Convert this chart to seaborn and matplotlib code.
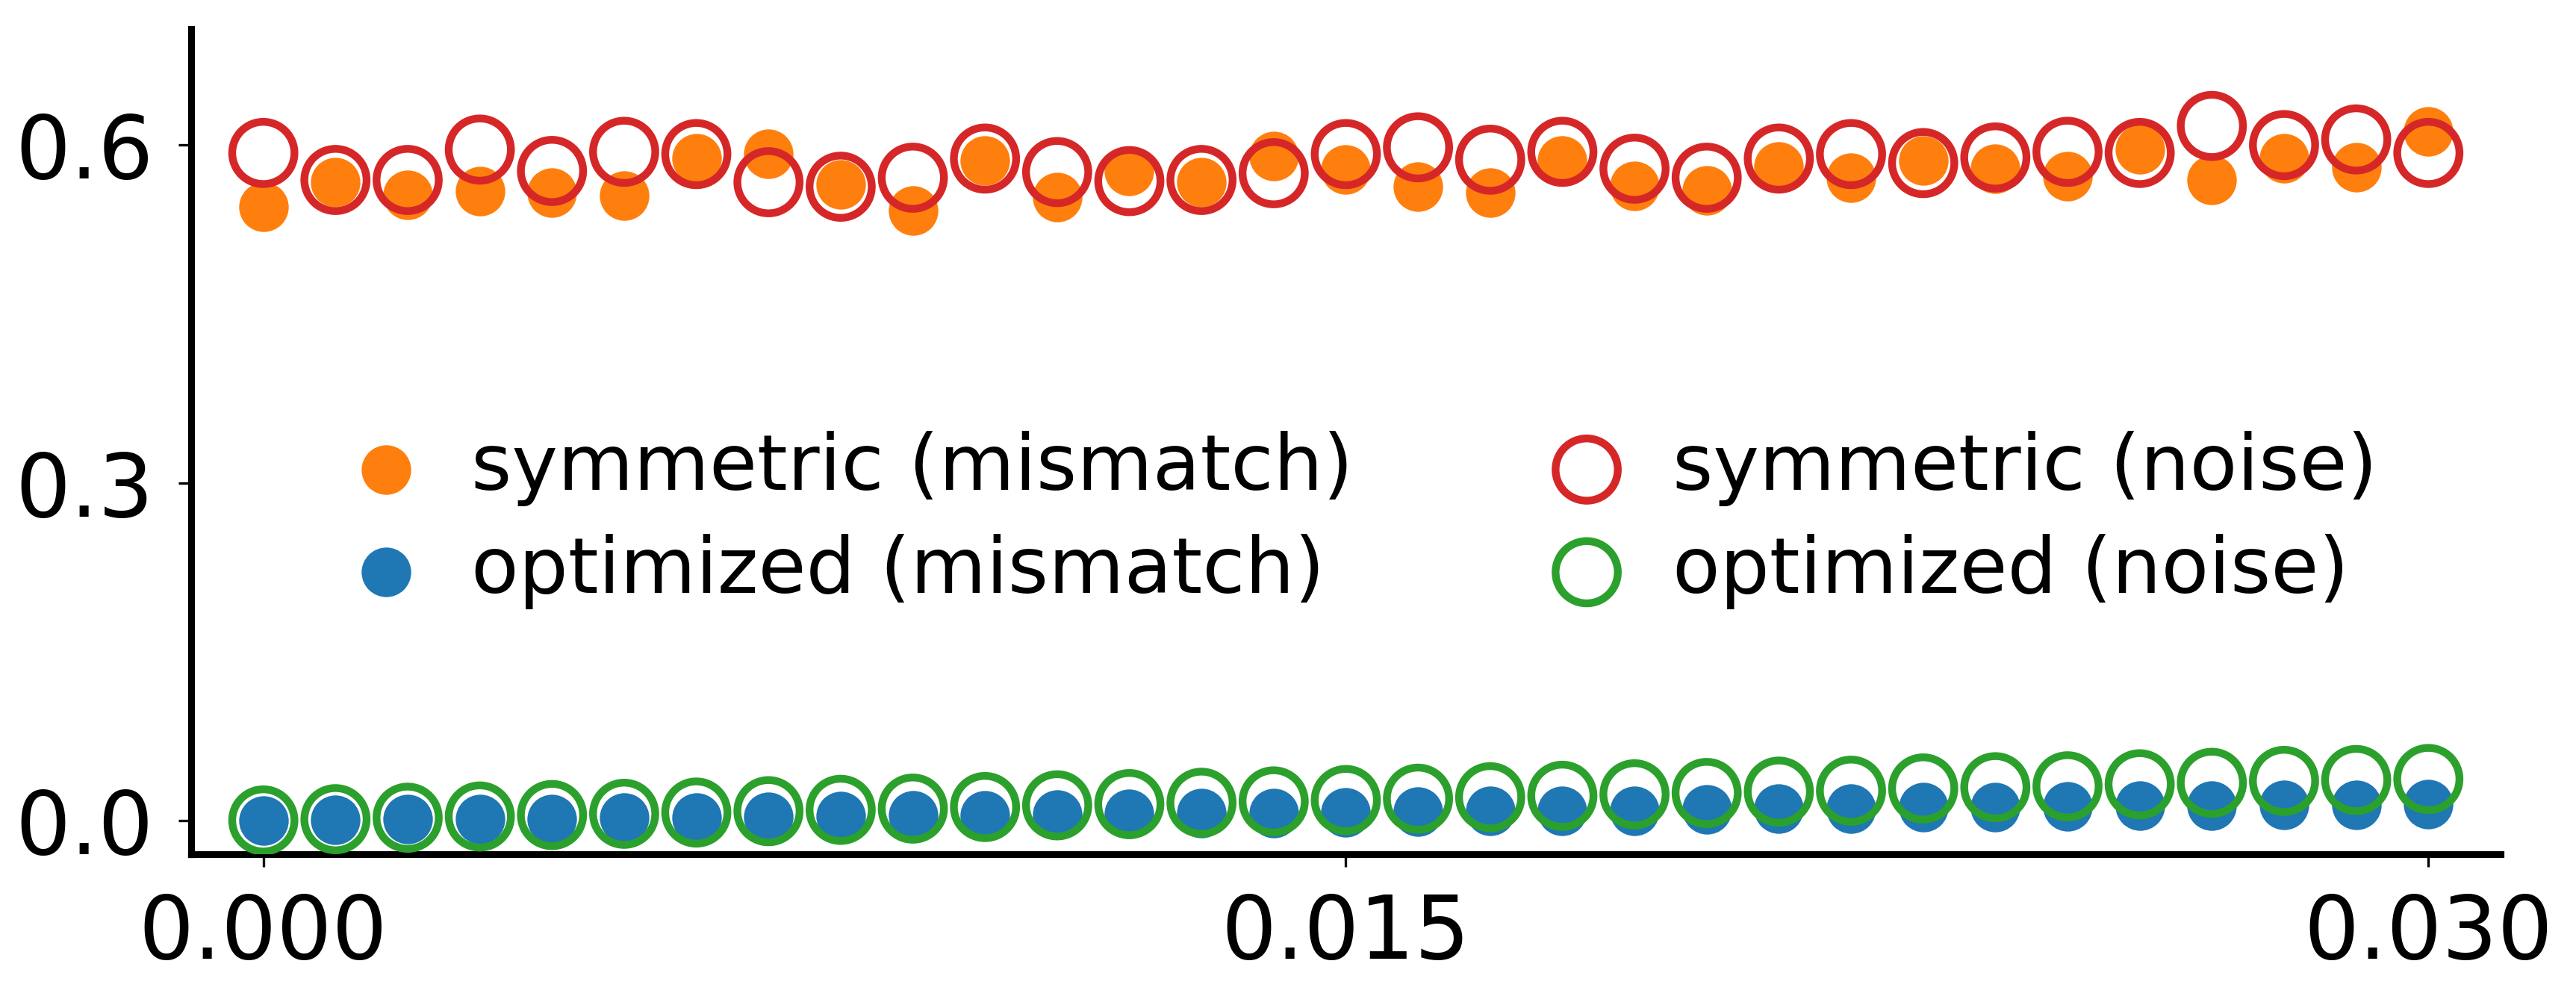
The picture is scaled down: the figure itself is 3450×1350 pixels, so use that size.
import numpy as np
import matplotlib
matplotlib.use("Agg")
import matplotlib.pyplot as plt
import seaborn as sns

# x grid: 0 .. 0.030, step 0.001
x = np.round(np.arange(31) * 0.001, 3)

sym_mismatch = [0.545, 0.567, 0.556, 0.559, 0.558, 0.555, 0.588, 0.592, 0.565, 0.542,
                0.586, 0.554, 0.577, 0.567, 0.590, 0.578, 0.563, 0.558, 0.586, 0.564,
                0.560, 0.581, 0.571, 0.586, 0.579, 0.572, 0.596, 0.569, 0.588, 0.580,
                0.612]
sym_noise = [0.593, 0.569, 0.569, 0.596, 0.577, 0.594, 0.592, 0.567, 0.563, 0.571,
             0.588, 0.576, 0.568, 0.569, 0.575, 0.592, 0.598, 0.587, 0.594, 0.579,
             0.571, 0.588, 0.592, 0.584, 0.589, 0.594, 0.593, 0.617, 0.600, 0.605,
             0.593]
opt_mismatch = [0.0, 0.0004, 0.0009, 0.0011, 0.0015, 0.0022, 0.0026, 0.0031, 0.0037, 0.0044,
                0.0046, 0.0051, 0.0057, 0.0062, 0.0066, 0.0071, 0.0077, 0.0082, 0.0084, 0.0088,
                0.0095, 0.0102, 0.0106, 0.0115, 0.0117, 0.0124, 0.0128, 0.0130, 0.0137, 0.0141,
                0.0144]
opt_noise = [0.0, 0.0011, 0.0024, 0.0035, 0.0048, 0.0059, 0.0070, 0.0082, 0.0094, 0.0105,
             0.0119, 0.0134, 0.0145, 0.0157, 0.0169, 0.0181, 0.0193, 0.0206, 0.0219, 0.0232,
             0.0244, 0.0256, 0.0264, 0.0284, 0.0295, 0.0303, 0.0321, 0.0334, 0.0351, 0.0359,
             0.0368]

labels = ["symmetric (mismatch)", "optimized (mismatch)",
          "symmetric (noise)", "optimized (noise)"]

sns.set_style("ticks")
plt.rcParams['font.family'] = ['DejaVu Sans']
plt.rcParams.update({"text.color": "black", "axes.labelcolor": "black",
                     "xtick.color": "black", "ytick.color": "black",
                     "axes.edgecolor": "black"})

fig = plt.figure(figsize=(11.5, 4.5), dpi=300)
ax = fig.add_axes([0.0742, 0.1526, 0.8965, 0.8185])

# filled markers
sns.scatterplot(x=x, y=sym_mismatch, ax=ax, color="#ff7f0e", s=270,
                edgecolor="white", linewidth=0.5, label=labels[0], zorder=2)
sns.scatterplot(x=x, y=opt_mismatch, ax=ax, color="#1f77b4", s=270,
                edgecolor="white", linewidth=0.5, label=labels[1], zorder=2)
# open markers
sns.scatterplot(x=x, y=sym_noise, ax=ax, s=400, facecolor="none",
                edgecolor="#d62728", linewidth=2.5, label=labels[2], zorder=3)
sns.scatterplot(x=x, y=opt_noise, ax=ax, s=400, facecolor="none",
                edgecolor="#2ca02c", linewidth=2.5, label=labels[3], zorder=3)

ax.set_xlim(-0.001, 0.031)
ax.set_ylim(-0.03, 0.703)
ax.set_xticks([0.0, 0.015, 0.030])
ax.set_xticklabels(["0.000", "0.015", "0.030"])
ax.set_yticks([0.0, 0.3, 0.6])
ax.set_yticklabels(["0.0", "0.3", "0.6"])
ax.tick_params(axis="both", labelsize=28, length=4, width=0.8, pad=8,
               color="black", labelcolor="black")

sns.despine(ax=ax)
for side in ["left", "bottom"]:
    ax.spines[side].set_linewidth(2.2)
    ax.spines[side].set_color("black")

leg = ax.legend(loc="center", bbox_to_anchor=(0.507, 0.405), ncol=2, frameon=False,
                fontsize=25, handlelength=1, handletextpad=0.6, columnspacing=2.5,
                labelspacing=0.35)
for t in leg.get_texts():
    t.set_color("black")

fig.savefig("out.png", dpi=300)
